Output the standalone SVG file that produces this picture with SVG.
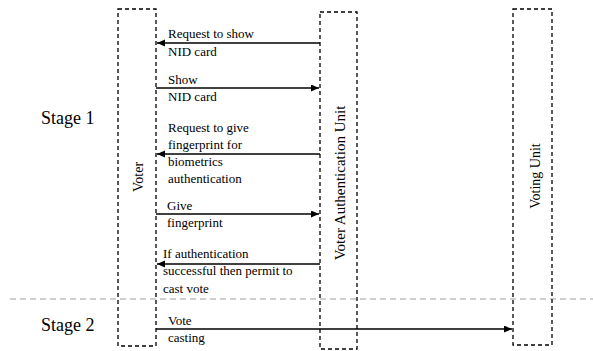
<svg xmlns="http://www.w3.org/2000/svg" width="593" height="351" viewBox="0 0 593 351">
  <style>
    .lane { fill: none; stroke: #000; stroke-width: 1.3; stroke-dasharray: 4 3; }
    .divider { stroke: #a0a0a0; stroke-width: 1.2; stroke-dasharray: 6 4; fill: none; }
    .msg { stroke: #000; stroke-width: 1.3; fill: none; marker-end: url(#arrow); }
    .lbl { font-family: "Liberation Serif", "Times New Roman", serif; font-size: 13px; fill: #000; }
    .title { font-family: "Liberation Serif", "Times New Roman", serif; font-size: 14px; fill: #000; text-anchor: middle; }
    .stage { font-family: "Liberation Serif", "Times New Roman", serif; font-size: 18px; fill: #000; }
  </style>
  <defs>
    <marker id="arrow" markerUnits="userSpaceOnUse" markerWidth="9" markerHeight="8" refX="8" refY="3.5" orient="auto">
      <path d="M0,0 L8,3.5 L0,7 z" fill="#000"/>
    </marker>
  </defs>
  <rect width="593" height="351" fill="#fff"/>

  <!-- stage separator -->
  <line class="divider" x1="10" y1="299" x2="593" y2="299"/>
  <text class="stage" x="41" y="124">Stage 1</text>
  <text class="stage" x="41" y="331">Stage 2</text>

  <!-- participants -->
  <g id="voter">
    <rect class="lane" x="118" y="9" width="38" height="337"/>
    <text class="title" transform="translate(143,177) rotate(-90)">Voter</text>
  </g>
  <g id="vau">
    <rect class="lane" x="320" y="12" width="37" height="337"/>
    <text class="title" style="font-size:15px" transform="translate(345,183) rotate(-90)">Voter Authentication Unit</text>
  </g>
  <g id="voting-unit">
    <rect class="lane" x="513" y="9" width="39" height="336"/>
    <text class="title" transform="translate(540,176) rotate(-90)">Voting Unit</text>
  </g>

  <!-- messages -->
  <g id="connectors">
    <line class="msg" x1="320" y1="43" x2="157" y2="43"/>
    <line class="msg" x1="156" y1="88" x2="319" y2="88"/>
    <line class="msg" x1="320" y1="154" x2="157" y2="154"/>
    <line class="msg" x1="156" y1="214" x2="319" y2="214"/>
    <line class="msg" x1="320" y1="264" x2="157" y2="264"/>
    <line class="msg" x1="156" y1="329" x2="512" y2="329"/>
  </g>

  <g id="labels">
    <text class="lbl" x="168" y="38">Request to show</text>
    <text class="lbl" x="168" y="56">NID card</text>

    <text class="lbl" x="168" y="84">Show</text>
    <text class="lbl" x="168" y="101">NID card</text>

    <text class="lbl" x="168" y="132">Request to give</text>
    <text class="lbl" x="168" y="149">fingerprint for</text>
    <text class="lbl" x="168" y="166">biometrics</text>
    <text class="lbl" x="168" y="183">authentication</text>

    <text class="lbl" x="167" y="210">Give</text>
    <text class="lbl" x="167" y="227">fingerprint</text>

    <text class="lbl" x="163" y="258">If authentication</text>
    <text class="lbl" x="163" y="275">successful then permit to</text>
    <text class="lbl" x="163" y="293">cast vote</text>

    <text class="lbl" x="168" y="325">Vote</text>
    <text class="lbl" x="168" y="342">casting</text>
  </g>
</svg>
